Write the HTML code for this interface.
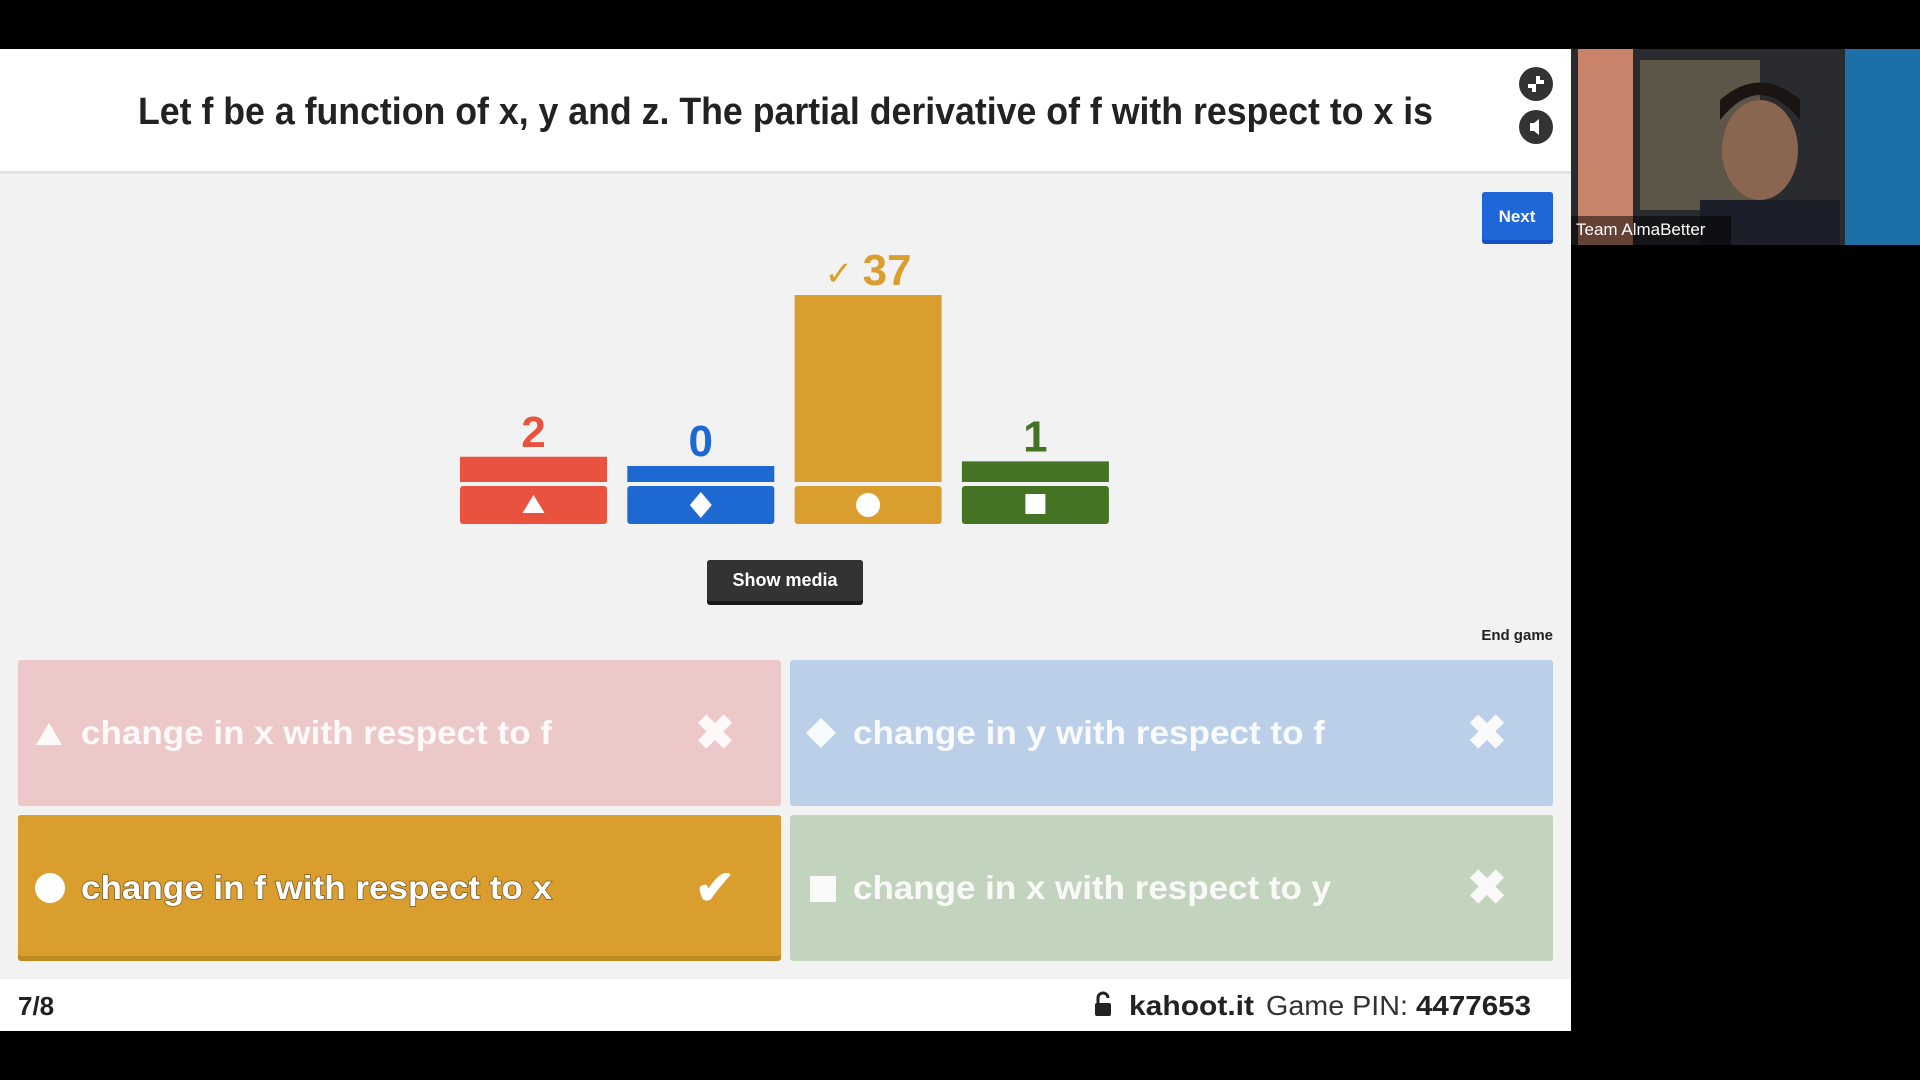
<!DOCTYPE html>
<html><head><meta charset="utf-8"><style>
html,body{margin:0;padding:0;background:#000;}
svg{display:block;font-family:"Liberation Sans",sans-serif;}
</style></head><body>
<svg id="s" width="1920" height="1080" viewBox="0 0 1920 1080">
<rect x="0" y="0" width="1920" height="1080" fill="#000"/>
<rect x="0" y="49" width="1571" height="982" fill="#f2f2f2"/>
<rect x="0" y="49" width="1571" height="122" fill="#fff"/>
<rect x="0" y="171" width="1571" height="3" fill="#e2e2e2"/>
<text x="138" y="124" font-size="38" font-weight="bold" fill="#222" textLength="1295" lengthAdjust="spacingAndGlyphs">Let f be a function of x, y and z. The partial derivative of f with respect to x is</text>
<g><circle cx="1536" cy="84" r="17" fill="#333"/><path d="M1528 86h6v6M1544 82h-6v-6" stroke="#fff" stroke-width="4" fill="none"/></g>
<g><circle cx="1536" cy="127" r="17" fill="#333"/><path d="M1530 123h4l5-4v16l-5-4h-4z" fill="#fff"/></g>
<g><rect x="1482" y="192" width="71" height="52" rx="3" fill="#1551c8"/><rect x="1482" y="192" width="71" height="48" rx="3" fill="#1f66d8"/><text x="1517" y="222" font-size="17" font-weight="bold" fill="#fff" text-anchor="middle">Next</text></g>
<g id="chart"></g>
<g><rect x="707" y="560" width="156" height="45" rx="3" fill="#1a1a1a"/><rect x="707" y="560" width="156" height="41" rx="3" fill="#333"/><text x="785" y="586" font-size="18" font-weight="bold" fill="#fff" text-anchor="middle">Show media</text></g>
<text x="1553" y="640" font-size="15" font-weight="bold" fill="#222" text-anchor="end">End game</text>

<g>
<rect x="18" y="660" width="763" height="146" rx="3" fill="#ecc9c8"/>
<polygon points="36,745 49,723 62,745" fill="#fff" opacity="0.9"/>
<text x="81" y="744" font-size="33" font-weight="bold" fill="#fff" textLength="471" lengthAdjust="spacingAndGlyphs" opacity="0.9">change in x with respect to f</text>
<text x="715" y="749" font-size="48" font-weight="bold" fill="#fff" text-anchor="middle" opacity="0.9">✖</text>
</g>
<g>
<rect x="790" y="660" width="763" height="146" rx="3" fill="#bbcfe8"/>
<polygon points="806,733 821,718 836,733 821,748" fill="#fff" opacity="0.9"/>
<text x="853" y="744" font-size="33" font-weight="bold" fill="#fff" textLength="472" lengthAdjust="spacingAndGlyphs" opacity="0.9">change in y with respect to f</text>
<text x="1487" y="749" font-size="48" font-weight="bold" fill="#fff" text-anchor="middle" opacity="0.9">✖</text>
</g>
<g>
<rect x="18" y="815" width="763" height="146" rx="3" fill="#c08a22"/>
<rect x="18" y="815" width="763" height="141" rx="3" fill="#d99e2e"/>
<circle cx="50" cy="888" r="15" fill="#fff"/>
<text x="81" y="899" font-size="33" font-weight="bold" fill="#fff" textLength="471" lengthAdjust="spacingAndGlyphs" style="paint-order:stroke" stroke="#7a5a20" stroke-width="1.5">change in f with respect to x</text>
<text x="715" y="904" font-size="48" font-weight="bold" fill="#fff" text-anchor="middle">✔</text>
</g>
<g>
<rect x="790" y="815" width="763" height="146" rx="3" fill="#c3d4be"/>
<rect x="810" y="876" width="26" height="26" fill="#fff" opacity="0.9"/>
<text x="853" y="899" font-size="33" font-weight="bold" fill="#fff" textLength="478" lengthAdjust="spacingAndGlyphs" opacity="0.9">change in x with respect to y</text>
<text x="1487" y="904" font-size="48" font-weight="bold" fill="#fff" text-anchor="middle" opacity="0.9">✖</text>
</g>

<rect x="0" y="979" width="1571" height="52" fill="#fff"/>
<text x="18" y="1015" font-size="26" font-weight="bold" fill="#222">7/8</text>
<g><rect x="1095" y="1003" width="16" height="13" rx="2" fill="#222"/><path d="M1098 1003v-5a5 5 0 0 1 10 0" stroke="#222" stroke-width="3" fill="none"/></g>
<text x="1129" y="1015" font-size="28" font-weight="bold" fill="#222" textLength="125" lengthAdjust="spacingAndGlyphs">kahoot.it</text>
<text x="1266" y="1015" font-size="28" fill="#333" textLength="142" lengthAdjust="spacingAndGlyphs">Game PIN:</text>
<text x="1416" y="1015" font-size="28" font-weight="bold" fill="#222" textLength="115" lengthAdjust="spacingAndGlyphs">4477653</text>

<g>
<rect x="1571" y="49" width="349" height="196" fill="#2a2b2e"/>
<rect x="1578" y="49" width="55" height="196" fill="#c9836a"/>
<rect x="1640" y="60" width="120" height="150" fill="#5d5648"/>
<rect x="1845" y="49" width="75" height="196" fill="#1d6fa8"/>
<rect x="1700" y="200" width="140" height="45" fill="#1c1f2a"/>
<ellipse cx="1760" cy="150" rx="38" ry="50" fill="#8a6550"/>
<path d="M1720 120q40-50 80 0v-20q-40-35-80 0z" fill="#1a1512"/>
<rect x="1571" y="216" width="160" height="29" fill="#000" opacity="0.5"/>
<text x="1576" y="235" font-size="17" fill="#fff">Team AlmaBetter</text>
</g>
</svg>
<script>
const categories = ["triangle","diamond","circle","square"];
const counts = [2, 0, 37, 1];
const labels = ["2", "0", "✓ 37", "1"];
const colors = ["#e8523f","#1e68d2","#d99e2e","#437323"];
const correct = [false, false, true, false];
const NS = "http://www.w3.org/2000/svg";
const g = document.getElementById("chart");
const baseY = 482, minH = 16, maxV = 37, maxH = 187;
function xPos(i){ return 460 + i * 167.3; }
function yTop(v){ return baseY - (minH + v * (maxH - minH) / maxV); }
const bw = 147;
function mk(tag, attrs){ const e = document.createElementNS(NS, tag); for (const k in attrs) e.setAttribute(k, attrs[k]); return e; }
counts.forEach((v, i) => {
  const x = xPos(i), t = yTop(v);
  const bar = mk("rect", {x: x, y: t, width: bw, height: baseY - t, fill: colors[i]});
  
  
  g.appendChild(bar);
  const box = mk("rect", {x: x, y: 486, width: bw, height: 38, rx: 3, fill: colors[i]});
  
  
  g.appendChild(box);
  const cx = x + bw / 2, cy = 505;
  let icon;
  if (i === 0) icon = mk("polygon", {points: (cx-11)+","+(cy+8)+" "+cx+","+(cy-10)+" "+(cx+11)+","+(cy+8), fill: "#fff"});
  else if (i === 1) icon = mk("polygon", {points: (cx-11)+","+cy+" "+cx+","+(cy-13)+" "+(cx+11)+","+cy+" "+cx+","+(cy+13), fill: "#fff"});
  else if (i === 2) icon = mk("circle", {cx: cx, cy: cy, r: 12, fill: "#fff"});
  else icon = mk("rect", {x: cx-10, y: cy-11, width: 20, height: 20, fill: "#fff"});
  
  
  g.appendChild(icon);
  const lab = mk("text", {x: cx, y: t - 10, "font-size": 44, "font-weight": "bold", fill: colors[i], "text-anchor": "middle"});
  if (correct[i]) {
    const ck = mk("tspan", {"font-size": 34, "font-weight": "normal"}); ck.textContent = "✓ ";
    lab.appendChild(ck);
    const num = mk("tspan", {}); num.textContent = labels[i].replace("✓ ", "");
    lab.appendChild(num);
  } else lab.textContent = labels[i];
  
  
  g.appendChild(lab);
});
</script>
</body></html>
